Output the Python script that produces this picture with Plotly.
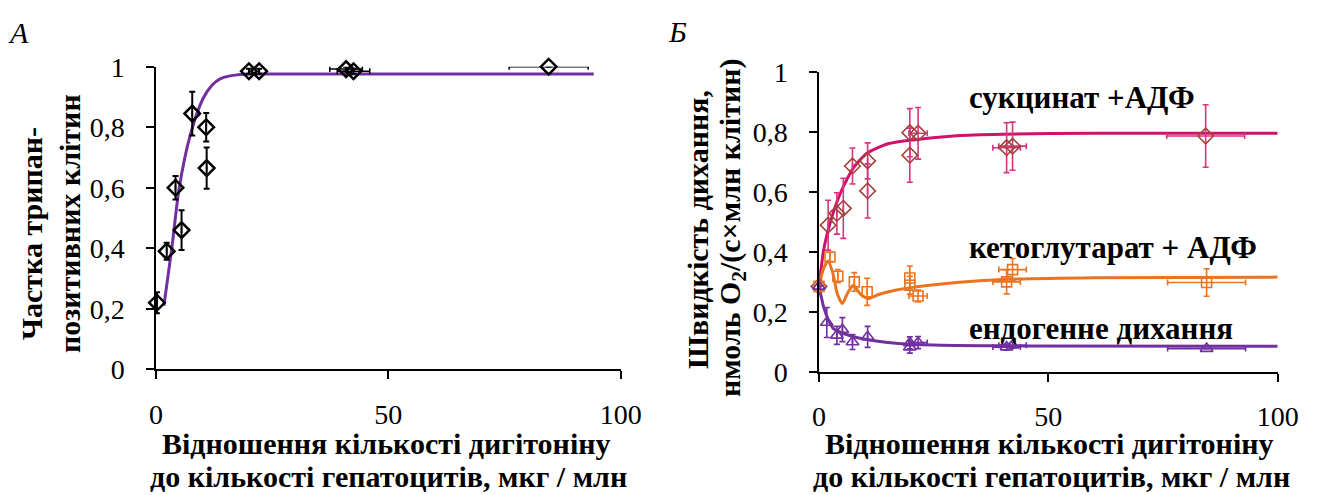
import plotly.graph_objects as go

W, H = 1319, 495

# ---- Panel A: fraction of trypan-positive cells ----
a_x = [0.2, 2.3, 4.2, 5.5, 7.8, 10.8, 10.9, 20.0, 22.2, 40.9, 42.5, 84.5]
a_y = [0.22, 0.39, 0.60, 0.46, 0.845, 0.80, 0.665, 0.985, 0.985, 0.992, 0.985, 1.0]
a_yerr = [0.035, 0.028, 0.039, 0.066, 0.072, 0.047, 0.068, 0.008, 0.008, 0.008, 0.008, 0.0]
a_xerr = [0, 0, 0, 0, 0, 0, 0, 0, 0, 3.5, 3.5, 8.5]

a_fit_x = [1.7, 3.4, 5.0, 7.3, 10.1, 12.0, 13.8, 17.4, 25, 40, 94.2]
a_fit_y = [0.21, 0.40, 0.60, 0.77, 0.894, 0.938, 0.96, 0.973, 0.976, 0.976, 0.976]

# ---- Panel B: respiration rate ----
s_x = [0, 2.0, 3.9, 5.3, 7.3, 10.6, 10.6, 19.8, 19.8, 21.6, 40.9, 42.2, 84.3]
s_y = [0.285, 0.489, 0.528, 0.545, 0.686, 0.703, 0.603, 0.797, 0.722, 0.795, 0.747, 0.752, 0.786]
s_yerr = [0, 0.083, 0.069, 0.10, 0.06, 0.06, 0.09, 0.08, 0.09, 0.086, 0.083, 0.08, 0.104]
s_xerr = [0, 0, 0, 0, 0, 0, 0, 0, 0, 2, 3, 3, 8.5]
s_fit_x = [0, 1.0, 2.4, 4, 5.3, 7.5, 10.4, 15, 19.8, 30, 40, 60, 100]
s_fit_y = [0.285, 0.405, 0.495, 0.57, 0.617, 0.68, 0.728, 0.76, 0.772, 0.787, 0.792, 0.795, 0.795]

k_x = [0, 2.4, 4.1, 7.7, 10.5, 19.8, 19.8, 21.6, 40.9, 42.2, 84.5]
k_y = [0.285, 0.383, 0.319, 0.30, 0.267, 0.313, 0.289, 0.253, 0.30, 0.341, 0.298]
k_yerr = [0, 0.015, 0.022, 0.031, 0.045, 0.04, 0.03, 0.02, 0.04, 0.037, 0.046]
k_xerr = [0, 0, 0, 0, 0, 0, 0, 2, 3, 3, 8.5]
k_fit_x = [0, 1, 2, 3, 4, 5.1, 6.3, 7.5, 9, 10.7, 13, 16.6, 20, 30, 40, 60, 100]
k_fit_y = [0.285, 0.345, 0.37, 0.33, 0.26, 0.228, 0.265, 0.289, 0.26, 0.245, 0.258, 0.272,
           0.281, 0.298, 0.308, 0.314, 0.316]

e_x = [0, 1.7, 3.9, 5.1, 7.3, 10.6, 19.8, 19.8, 21.6, 40.9, 42.2, 84.5]
e_y = [0.285, 0.165, 0.122, 0.141, 0.10, 0.117, 0.083, 0.097, 0.098, 0.083, 0.089, 0.078]
e_yerr = [0, 0.05, 0.03, 0.04, 0.025, 0.035, 0.02, 0.02, 0.02, 0.01, 0.01, 0.0]
e_xerr = [0, 0, 0, 0, 0, 0, 0, 0, 2, 3, 3, 8.5]
e_fit_x = [0, 1, 2, 3.1, 5, 7, 10.4, 15, 19.8, 30, 40, 100]
e_fit_y = [0.285, 0.217, 0.175, 0.145, 0.13, 0.12, 0.108, 0.098, 0.092, 0.088, 0.087, 0.086]

y_ticks = [0, 0.2, 0.4, 0.6, 0.8, 1]
y_tick_text = ["0", "0,2", "0,4", "0,6", "0,8", "1"]
x_ticks = [0, 50, 100]
x_tick_text = ["0", "50", "100"]

PURPLE = "#7030A0"
MAGENTA = "#D0126A"
MAGENTA_ERR = "#D8357F"
BROWN = "#A04438"
ORANGE = "#EB7420"

SERIF = "Times New Roman, Liberation Serif, serif"


def px_x(v):
    return v / W


def px_y(v):
    return 1 - v / H


fig = go.Figure()

# Panel A
fig.add_trace(go.Scatter(
    x=a_fit_x, y=a_fit_y, mode="lines", line=dict(color=PURPLE, width=3, shape="spline", smoothing=0.8),
    xaxis="x", yaxis="y", hoverinfo="skip"))
fig.add_trace(go.Scatter(
    x=a_x, y=a_y, mode="markers",
    marker=dict(symbol="diamond-open", size=12, color="black", line=dict(width=2.5, color="black")),
    error_y=dict(type="data", array=a_yerr, color="black", thickness=2, width=3),
    error_x=dict(type="data", array=a_xerr, color="black", thickness=1.5, width=3),
    xaxis="x", yaxis="y", cliponaxis=False))

# Panel B curves
for fx, fy, col in [(s_fit_x, s_fit_y, MAGENTA), (k_fit_x, k_fit_y, ORANGE), (e_fit_x, e_fit_y, PURPLE)]:
    fig.add_trace(go.Scatter(
        x=fx, y=fy, mode="lines", line=dict(color=col, width=3, shape="spline", smoothing=0.6),
        xaxis="x2", yaxis="y2", hoverinfo="skip", cliponaxis=False))

# Panel B points
fig.add_trace(go.Scatter(
    x=s_x, y=s_y, mode="markers",
    marker=dict(symbol="diamond-open", size=12, color=BROWN, line=dict(width=1.6, color=BROWN)),
    error_y=dict(type="data", array=s_yerr, color=MAGENTA_ERR, thickness=1.6, width=3),
    error_x=dict(type="data", array=s_xerr, color=MAGENTA_ERR, thickness=1.6, width=3),
    xaxis="x2", yaxis="y2", cliponaxis=False))
fig.add_trace(go.Scatter(
    x=k_x, y=k_y, mode="markers",
    marker=dict(symbol="square-open", size=10, color=ORANGE, line=dict(width=1.6, color=ORANGE)),
    error_y=dict(type="data", array=k_yerr, color=ORANGE, thickness=1.6, width=3),
    error_x=dict(type="data", array=k_xerr, color=ORANGE, thickness=1.6, width=3),
    xaxis="x2", yaxis="y2", cliponaxis=False))
fig.add_trace(go.Scatter(
    x=e_x, y=e_y, mode="markers",
    marker=dict(symbol="triangle-up-open", size=11, color=PURPLE, line=dict(width=1.6, color=PURPLE)),
    error_y=dict(type="data", array=e_yerr, color=PURPLE, thickness=1.6, width=3),
    error_x=dict(type="data", array=e_xerr, color=PURPLE, thickness=1.6, width=3),
    xaxis="x2", yaxis="y2", cliponaxis=False))

tick_font = dict(family=SERIF, size=28, color="black")
axis_common = dict(showline=True, linecolor="black", linewidth=1.5, ticks="outside", ticklen=8,
                   tickwidth=1.5, tickcolor="black", showgrid=False, zeroline=False,
                   tickfont=tick_font, fixedrange=True, automargin=False)

fig.update_layout(
    width=W, height=H, margin=dict(l=0, r=0, t=0, b=0),
    font=dict(family=SERIF, color="black"),
    paper_bgcolor="white", plot_bgcolor="white", showlegend=False,
    xaxis=dict(domain=[px_x(156), px_x(620.7)], range=[0, 100], tickvals=x_ticks, ticktext=x_tick_text,
               anchor="y", ticklabelstandoff=11, **axis_common),
    yaxis=dict(domain=[px_y(369.3), px_y(66.7)], range=[0, 1], tickvals=y_ticks, ticktext=y_tick_text,
               anchor="x", ticklabelstandoff=16, **axis_common),
    xaxis2=dict(domain=[px_x(819), px_x(1277.7)], range=[0, 100], tickvals=x_ticks, ticktext=x_tick_text,
                anchor="y2", ticklabelstandoff=11, **axis_common),
    yaxis2=dict(domain=[px_y(372), px_y(71.7)], range=[0, 1], tickvals=y_ticks, ticktext=y_tick_text,
                anchor="x2", ticklabelstandoff=16, **axis_common),
)

title_font = dict(family=SERIF, size=30, color="black")
label_font = dict(family=SERIF, size=31, color="black")


def note(text, x, y, font, angle=0, xanchor="center"):
    fig.add_annotation(text=text, x=px_x(x), y=px_y(y), xref="paper", yref="paper",
                       showarrow=False, font=font, textangle=angle, xanchor=xanchor, yanchor="middle")


# panel letters
note("<i>А</i>", 18, 33, dict(family=SERIF, size=30, color="black"))
note("<i>Б</i>", 677, 32, dict(family=SERIF, size=30, color="black"))

# axis titles, panel A
note("<b>Частка трипан-</b>", 32, 234, title_font, angle=-90)
note("<b>позитивних клітин</b>", 69, 224, title_font, angle=-90)
note("<b>Відношення кількості дигітоніну</b>", 386, 443, title_font)
note("<b>до кількості гепатоцитів, мкг / млн</b>", 388, 476, title_font)

# axis titles, panel B
note("<b>Швидкість дихання,</b>", 697, 230, title_font, angle=-90)
note("<b>нмоль O<sub>2</sub>/(с×млн клітин)</b>", 732, 228, title_font, angle=-90)
note("<b>Відношення кількості дигітоніну</b>", 1049, 443, title_font)
note("<b>до кількості гепатоцитів, мкг / млн</b>", 1051, 476, title_font)

# series labels
note("<b>сукцинат +АДФ</b>", 967, 97, label_font, xanchor="left")
note("<b>кетоглутарат + АДФ</b>", 967, 247, label_font, xanchor="left")
note("<b>ендогенне дихання</b>", 967, 328, label_font, xanchor="left")

fig.write_html("out.html")
